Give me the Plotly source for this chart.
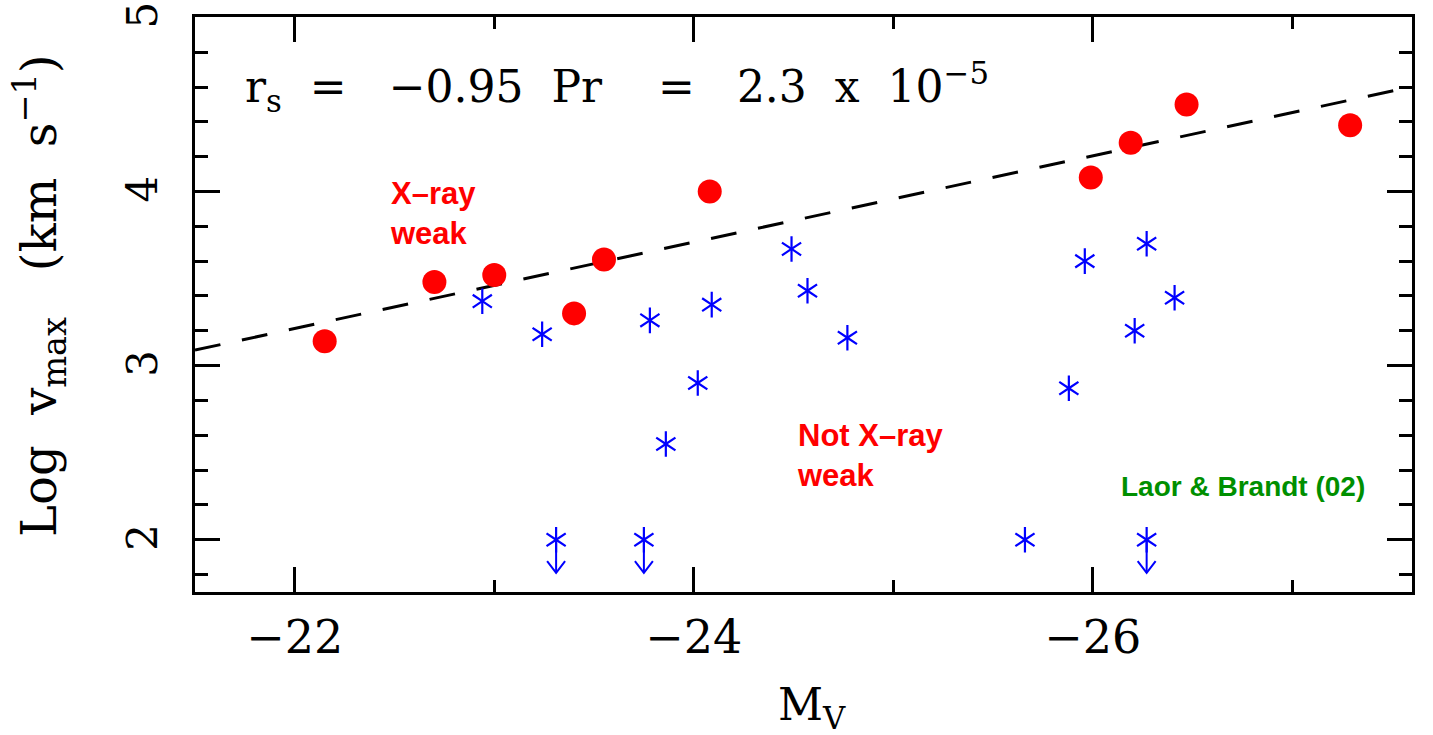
import plotly.graph_objects as go

# ---- data ----
xray_weak_mv = [-22.15, -22.70, -23.00, -23.40, -23.55, -24.08, -25.99, -26.19, -26.47, -27.29]
xray_weak_logv = [3.14, 3.48, 3.52, 3.30, 3.61, 4.00, 4.08, 4.28, 4.50, 4.38]

normal_mv = [-22.94, -23.24, -23.78, -24.09, -24.49, -24.57, -24.77, -24.02, -23.86,
             -25.96, -26.27, -26.41, -26.21, -25.88, -25.66]
normal_logv = [3.37, 3.18, 3.26, 3.35, 3.67, 3.43, 3.16, 2.90, 2.55,
               3.60, 3.70, 3.39, 3.20, 2.87, 2.00]

limit_mv = [-23.31, -23.75, -26.27]
limit_logv = [2.00, 2.00, 2.00]

fit_intercept = -2.243
fit_slope = -0.248
x_range = [-21.5, -27.6]
y_range = [1.7, 5.002]

x_tickvals = [-22, -24, -26]
y_tickvals = [2, 3, 4, 5]

SERIF = "DejaVu Serif"
SANS = "Liberation Sans, Arial, sans-serif"
BLUE = "#0000ff"
RED = "#ff0000"

fig = go.Figure()

# fit line
fit_x = list(x_range)
fit_y = [fit_intercept + fit_slope * v for v in fit_x]
fig.add_trace(go.Scatter(x=fit_x, y=fit_y, mode="lines",
                         line=dict(color="black", width=3, dash="26px,22px"),
                         showlegend=False, hoverinfo="skip"))

# upper-limit arrows
arrow_len = 0.19
wing_dx = 0.045
wing_dy = 0.067
ax, ay = [], []
for xv, yv in zip(limit_mv, limit_logv):
    tip = yv - arrow_len
    ax += [xv, xv, None, xv - wing_dx, xv, xv + wing_dx, None]
    ay += [yv, tip, None, tip + wing_dy, tip, tip + wing_dy, None]
fig.add_trace(go.Scatter(x=ax, y=ay, mode="lines", line=dict(color=BLUE, width=2),
                         showlegend=False, hoverinfo="skip"))

# asterisks (6-armed, built from two Y symbols)
all_mv = normal_mv + limit_mv
all_logv = normal_logv + limit_logv
for sym in ["y-up", "y-down"]:
    fig.add_trace(go.Scatter(x=all_mv, y=all_logv, mode="markers",
                             marker=dict(symbol=sym, size=16, color=BLUE,
                                         line=dict(color=BLUE, width=2.2)),
                             showlegend=False))

# X-ray weak circles
fig.add_trace(go.Scatter(x=xray_weak_mv, y=xray_weak_logv, mode="markers",
                         marker=dict(symbol="circle", size=24, color=RED, line=dict(width=0)),
                         showlegend=False))

axis_common = dict(showgrid=False, zeroline=False, showline=True, linecolor="black",
                   linewidth=3, mirror="ticks", ticks="inside", ticklen=25, tickwidth=3,
                   tickcolor="black", ticklabeloverflow="allow", automargin=False)

fig.update_xaxes(range=x_range, tickvals=x_tickvals, ticklabelstandoff=3,
                 tickfont=dict(family=SERIF, size=46, color="black"),
                 minor=dict(dtick=1, tick0=0, ticks="inside", ticklen=12, tickwidth=3,
                            tickcolor="black"),
                 **axis_common)
fig.update_yaxes(range=y_range, tickvals=y_tickvals, tickangle=-90, ticklabelstandoff=18,
                 ticklabelshift=4,
                 tickfont=dict(family=SERIF, size=42, color="black"),
                 minor=dict(dtick=0.2, tick0=0, ticks="inside", ticklen=13, tickwidth=3,
                            tickcolor="black"),
                 **axis_common)

nb = "\u00a0"
eq_text = ("r<sub>s</sub>" + nb * 2 + "=" + nb * 3 + "\u22120.95" + nb * 2 + "Pr" + nb * 4 +
           "=" + nb * 3 + "2.3" + nb * 2 + "x" + nb * 2 + "10<sup>\u22125</sup>")

ytitle = ("Log" + nb * 2 + "v<sub>max</sub>" + nb * 3 + "(km" + nb * 2 +
          "s<sup>\u22121</sup>)")

annotations = [
    dict(text=eq_text, xref="paper", yref="paper", x=0.0394, y=0.878, xanchor="left",
         yanchor="middle", showarrow=False, font=dict(family=SERIF, size=44, color="black")),
    dict(text="X\u2013ray<br>weak", xref="x", yref="y", x=-22.466, y=3.873, xanchor="left",
         yanchor="middle", align="left", showarrow=False,
         font=dict(family=SANS, size=31, color=RED, weight="bold")),
    dict(text="Not X\u2013ray<br>weak", xref="x", yref="y", x=-24.508, y=2.484, xanchor="left",
         yanchor="middle", align="left", showarrow=False,
         font=dict(family=SANS, size=31, color=RED, weight="bold")),
    dict(text="Laor & Brandt (02)", xref="x", yref="y", x=-26.751, y=2.305, xanchor="center",
         yanchor="middle", showarrow=False,
         font=dict(family=SANS, size=28, color="#008f00", weight="bold")),
    dict(text=ytitle, xref="paper", yref="paper", x=0, y=0.515, xshift=-155, xanchor="center",
         yanchor="middle", textangle=-90, showarrow=False,
         font=dict(family=SERIF, size=48, color="black")),
    dict(text="M<sub>V</sub>", xref="paper", yref="paper", x=0.507, y=0, yshift=-85,
         xanchor="center", yanchor="top", showarrow=False,
         font=dict(family=SERIF, size=44, color="black")),
]

fig.update_layout(width=1433, height=735, margin=dict(l=195, r=21, t=17, b=143, autoexpand=False),
                  plot_bgcolor="white", paper_bgcolor="white", annotations=annotations,
                  showlegend=False)

fig.write_html("out.html")
